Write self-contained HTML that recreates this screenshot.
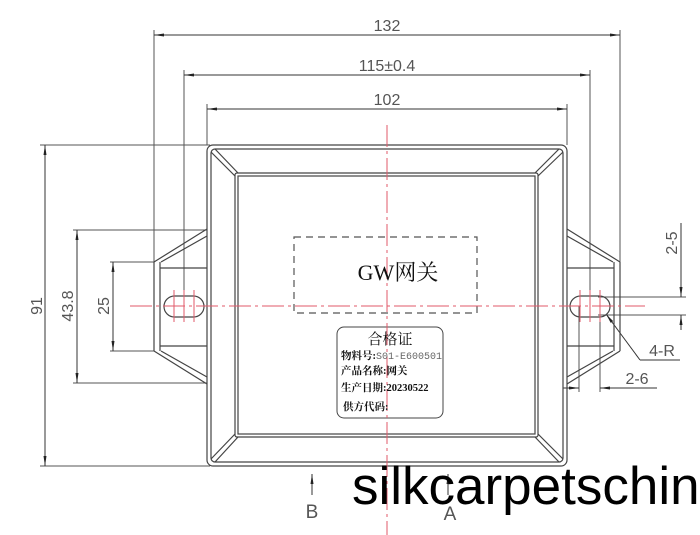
<!DOCTYPE html>
<html><head><meta charset="utf-8"><style>
html,body{margin:0;padding:0;background:#fff;}
svg{display:block;}
</style></head><body>
<svg width="700" height="535" viewBox="0 0 700 535" xmlns="http://www.w3.org/2000/svg" font-family="'Liberation Sans','Noto Sans CJK SC',sans-serif">
<defs>
<marker id="ar" markerWidth="10" markerHeight="6" refX="10" refY="3" orient="auto-start-reverse" markerUnits="userSpaceOnUse"><path d="M0,1.5 L10,3 L0,4.5 Z" fill="#222"/></marker>
</defs>
<g stroke="#555" stroke-width="1" fill="none">
<line x1="154" y1="30" x2="154" y2="262"/>
<line x1="620" y1="30" x2="620" y2="262"/>
<line x1="184" y1="70" x2="184" y2="296"/>
<line x1="590" y1="70" x2="590" y2="296"/>
<line x1="207" y1="104" x2="207" y2="145"/>
<line x1="567" y1="104" x2="567" y2="145"/>
<line x1="40" y1="145" x2="210" y2="145"/>
<line x1="40" y1="466" x2="210" y2="466"/>
<line x1="73" y1="230" x2="207" y2="230"/>
<line x1="73" y1="383" x2="207" y2="383"/>
<line x1="110" y1="262" x2="154" y2="262"/>
<line x1="110" y1="351" x2="154" y2="351"/>
<line x1="579" y1="306" x2="579" y2="392"/>
<line x1="600" y1="306" x2="600" y2="392"/>
<line x1="598" y1="297" x2="686" y2="297"/>
<line x1="598" y1="315" x2="686" y2="315"/>
</g>
<g stroke="#333" stroke-width="1" fill="none">
<line x1="154" y1="35" x2="620" y2="35" marker-start="url(#ar)" marker-end="url(#ar)"/>
<line x1="184" y1="75" x2="590" y2="75" marker-start="url(#ar)" marker-end="url(#ar)"/>
<line x1="207" y1="109" x2="567" y2="109" marker-start="url(#ar)" marker-end="url(#ar)"/>
<line x1="45" y1="145" x2="45" y2="466" marker-start="url(#ar)" marker-end="url(#ar)"/>
<line x1="77" y1="230" x2="77" y2="383" marker-start="url(#ar)" marker-end="url(#ar)"/>
<line x1="113" y1="262" x2="113" y2="351" marker-start="url(#ar)" marker-end="url(#ar)"/>
<line x1="681" y1="223" x2="681" y2="297" marker-end="url(#ar)"/>
<line x1="681" y1="330" x2="681" y2="315" marker-end="url(#ar)"/>
<line x1="657" y1="388" x2="600" y2="388" marker-end="url(#ar)"/>
<line x1="563" y1="388" x2="579" y2="388" marker-end="url(#ar)"/>
<line x1="680" y1="360" x2="640" y2="360"/>
<line x1="640" y1="360" x2="606" y2="314" marker-end="url(#ar)"/>
<line x1="312" y1="495" x2="312" y2="474" marker-end="url(#ar)"/>
<line x1="448" y1="495" x2="448" y2="474" marker-end="url(#ar)"/>
</g>
<g stroke="#444" stroke-width="1.2" fill="none">
<rect x="207" y="145" width="360" height="321" rx="6"/>
<rect x="211" y="149" width="352" height="313" rx="4"/>
<rect x="235" y="173" width="303" height="264" rx="2"/>
<rect x="238" y="176" width="297" height="258"/>
<line x1="211" y1="152" x2="235" y2="176"/><line x1="215" y1="149" x2="238" y2="173"/>
<line x1="563" y1="152" x2="538" y2="176"/><line x1="559" y1="149" x2="535" y2="173"/>
<line x1="211" y1="459" x2="235" y2="434"/><line x1="215" y1="462" x2="238" y2="437"/>
<line x1="563" y1="459" x2="538" y2="434"/><line x1="559" y1="462" x2="535" y2="437"/>
<line x1="207" y1="229" x2="154" y2="262"/>
<line x1="207" y1="236" x2="161" y2="262"/>
<line x1="154" y1="262" x2="154" y2="351"/>
<line x1="160" y1="262" x2="160" y2="351"/>
<line x1="160" y1="268" x2="207" y2="268"/>
<line x1="160" y1="346" x2="207" y2="346"/>
<line x1="154" y1="351" x2="207" y2="384"/>
<line x1="161" y1="351" x2="207" y2="377"/>
<rect x="164" y="296" width="40" height="21" rx="10.5"/>
<line x1="567" y1="229" x2="620" y2="262"/>
<line x1="567" y1="236" x2="613" y2="262"/>
<line x1="620" y1="262" x2="620" y2="351"/>
<line x1="614" y1="262" x2="614" y2="351"/>
<line x1="567" y1="268" x2="614" y2="268"/>
<line x1="567" y1="346" x2="614" y2="346"/>
<line x1="620" y1="351" x2="567" y2="384"/>
<line x1="613" y1="351" x2="567" y2="377"/>
<rect x="570" y="296" width="40" height="21" rx="10.5"/>
</g>
<rect x="294" y="237" width="183" height="76" fill="none" stroke="#555" stroke-width="1.2" stroke-dasharray="7,5"/>
<rect x="337" y="327" width="106" height="91" rx="7" fill="none" stroke="#444" stroke-width="1"/>
<g stroke="#e05a6a" stroke-width="1" fill="none">
<line x1="387" y1="125" x2="387" y2="535" stroke-dasharray="22,4,3,4"/>
<line x1="130" y1="306" x2="645" y2="306" stroke-dasharray="22,4,3,4"/>
<line x1="174" y1="290" x2="174" y2="322"/><line x1="184" y1="290" x2="184" y2="322"/><line x1="194" y1="290" x2="194" y2="322"/>
<line x1="580" y1="290" x2="580" y2="322"/><line x1="590" y1="290" x2="590" y2="322"/><line x1="600" y1="290" x2="600" y2="322"/>
</g>
<g fill="#555" font-size="16" text-anchor="middle">
<text x="387" y="31">132</text>
<text x="387" y="71">115±0.4</text>
<text x="387" y="105">102</text>
<text transform="translate(42,306) rotate(-90)">91</text>
<text transform="translate(73,306) rotate(-90)">43.8</text>
<text transform="translate(109,306) rotate(-90)">25</text>
<text transform="translate(677,243) rotate(-90)">2-5</text>
<text x="662" y="356">4-R</text>
<text x="637" y="384">2-6</text>
<text x="312" y="518" font-size="19">B</text>
<text x="450" y="520" font-size="19">A</text>
</g>
<text x="398" y="280" font-size="22" text-anchor="middle" fill="#111" font-family="'Liberation Serif','Noto Serif CJK SC',serif">GW网关</text>
<g font-family="'Liberation Serif','Noto Serif CJK SC',serif" fill="#111">
<text x="390" y="344" font-size="15" text-anchor="middle">合格证</text>
<text x="341" y="359" font-size="10.5" font-weight="bold">物料号:<tspan font-weight="normal" fill="#666" font-family="'Liberation Mono',monospace" font-size="10">S01-E600501</tspan></text>
<text x="341" y="374" font-size="10.5" font-weight="bold">产品名称:网关</text>
<text x="341" y="391" font-size="10.5" font-weight="bold">生产日期:20230522</text>
<text x="343" y="410" font-size="10.5" font-weight="bold">供方代码:</text>
</g>
<text x="352" y="504" font-size="53" fill="#000" font-family="'Liberation Sans',sans-serif">silkcarpetschin</text>
</svg>
</body></html>
